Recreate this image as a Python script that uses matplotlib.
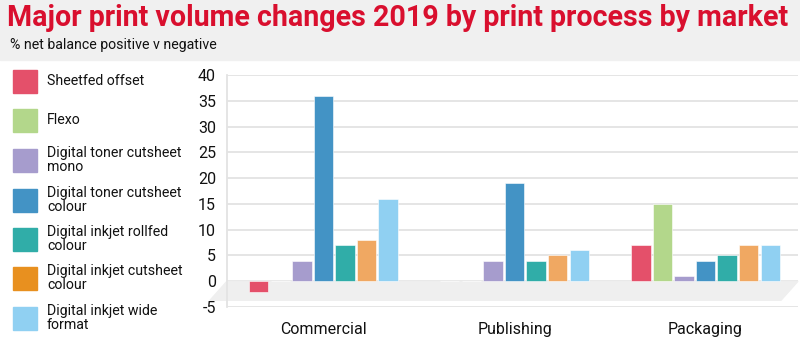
import matplotlib
matplotlib.use("Agg")
import matplotlib.pyplot as plt
from matplotlib.patches import Polygon, Rectangle
from matplotlib import font_manager
import numpy as np

# Data
MARKETS = ["Commercial", "Publishing", "Packaging"]
PROCESSES = [
    "Sheetfed offset",
    "Flexo",
    "Digital toner cutsheet\nmono",
    "Digital toner cutsheet\ncolour",
    "Digital inkjet rollfed\ncolour",
    "Digital inkjet cutsheet\ncolour",
    "Digital inkjet wide\nformat",
]
SHEETFED = [-2, 0, 7]
FLEXO = [0, 0, 15]
TONER_MONO = [4, 4, 1]
TONER_COLOUR = [36, 19, 4]
INKJET_ROLLFED = [7, 4, 5]
INKJET_CUTSHEET = [8, 5, 7]
INKJET_WIDE = [16, 6, 7]
YTICKS = [-5, 0, 5, 10, 15, 20, 25, 30, 35, 40]

BAR_COLOURS = ["#e4506a", "#b3d78b", "#a69ccd", "#4393c5", "#30ada8", "#f0a862", "#90d0f2"]
LEGEND_COLOURS = ["#e4506a", "#b3d78b", "#a69ccd", "#4393c5", "#30ada8", "#e8901f", "#90d0f2"]

available = {f.name for f in font_manager.fontManager.ttflist}
FONT = "Liberation Sans Narrow" if "Liberation Sans Narrow" in available else "Roboto"
plt.rcParams["font.family"] = [FONT, "DejaVu Sans"]

fig = plt.figure(figsize=(8, 3.49), dpi=100)

# header band
fig.patches.append(Rectangle((0, 1 - 60 / 349), 1, 60 / 349, transform=fig.transFigure,
                             color="#f0f0f0", zorder=0))
fig.text(0.009, 1 - 18 / 349, "Major print volume changes 2019 by print process by market",
         fontsize=20.6, fontweight="bold", color="#d90f2e", va="center", ha="left")
fig.text(0.012, 1 - 45 / 349, "% net balance positive v negative",
         fontsize=10.2, color="#111111", va="center", ha="left")

# legend on the left
legend_y = [81, 120, 160, 200, 239, 278, 318]
for lab, col, yc in zip(PROCESSES, LEGEND_COLOURS, legend_y):
    fig.patches.append(Rectangle((13 / 800, 1 - (yc + 12) / 349), 24 / 800, 23 / 349,
                                 transform=fig.transFigure, color=col))
    fig.text(47 / 800, 1 - yc / 349, lab, fontsize=10.2, color="#111111",
             va="center", ha="left", linespacing=0.95)

ax = fig.add_axes([227 / 800, 1 - 307 / 349, 571 / 800, 232 / 349])
series = [SHEETFED, FLEXO, TONER_MONO, TONER_COLOUR, INKJET_ROLLFED, INKJET_CUTSHEET, INKJET_WIDE]
x = np.arange(len(MARKETS))
slot = 0.113
for i, (vals, col) in enumerate(zip(series, BAR_COLOURS)):
    ax.bar(x + (i - 3) * slot, vals, width=0.102, color=col, edgecolor="white",
           linewidth=0.4, zorder=3)

xlo, xhi = -0.505, 2.484
ax.set_xlim(xlo, xhi)
ax.set_ylim(-5, 40)

# grey floor under the zero line
shift = 0.089
floor = Polygon([(xlo, 0), (xhi, 0), (xhi - shift, -3.7), (xlo - shift, -3.7)],
                closed=True, color="#efefef", zorder=2, clip_on=False)
ax.add_patch(floor)

ax.set_yticks(YTICKS)
ax.set_yticklabels([str(v) for v in YTICKS])
ax.yaxis.grid(True, color="#e3e3e3", linewidth=1.3, zorder=0)
ax.set_axisbelow(True)
ax.set_xticks(x)
ax.set_xticklabels(MARKETS)
ax.tick_params(axis="both", length=0, labelsize=11.5, colors="#111111")
ax.tick_params(axis="x", pad=11)
ax.tick_params(axis="y", pad=8)
for s in ["top", "right", "bottom"]:
    ax.spines[s].set_visible(False)
ax.spines["left"].set_color("#e3e3e3")
ax.spines["left"].set_linewidth(1.3)

fig.savefig("out.png", dpi=100)
